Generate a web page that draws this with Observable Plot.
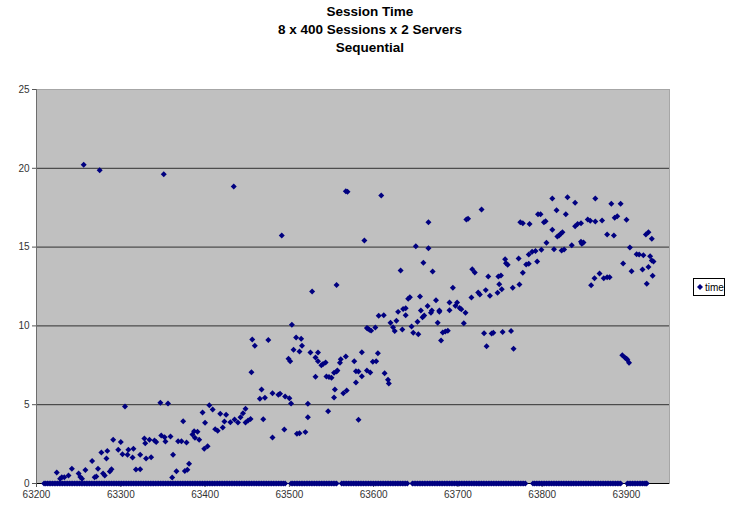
<!DOCTYPE html>
<html>
<head>
<meta charset="utf-8">
<script src="https://cdn.jsdelivr.net/npm/d3@7"></script>
<script src="https://cdn.jsdelivr.net/npm/@observablehq/plot@0.6"></script>
<style>
  html, body { margin: 0; padding: 0; background: #fff; }
  #wrap { position: relative; width: 730px; height: 511px; overflow: hidden; font-family: "Liberation Sans", Arial, sans-serif; }
  #title { position: absolute; left: 0; top: 3px; width: 740px; text-align: center; font-weight: bold; font-size: 13.5px; line-height: 18px; color: #000; }
  #chart { position: absolute; left: 0; top: 60px; }
  #legend { position: absolute; left: 693px; top: 278px; width: 30px; height: 16px; border: 1px solid #000; background: #fff; font-size: 10px; color: #000; display: flex; align-items: center; }
  #legend svg { margin-left: 3px; margin-right: 2px; }
</style>
</head>
<body>
<div id="wrap">
  <div id="title">Session Time<br>8 x 400 Sessions x 2 Servers<br>Sequential</div>
  <div id="chart"></div>
  <div id="legend"><svg width="6" height="6"><polygon points="3,0 6,3 3,6 0,3" fill="#000080"/></svg><span>time</span></div>
</div>
<script>
const seriesName = "time";
const xTicks = [63200, 63300, 63400, 63500, 63600, 63700, 63800, 63900];
const yTicks = [0, 5, 10, 15, 20, 25];
const gridValues = [5, 10, 15, 20];

// sessions with a non-zero time
const sessionX = [
63224,63228,63230,63233,63238,63242,63250,63252,63254,63256,63258,63266,63269,63271,63273,63275,63277,63279,63281,63283,
63284,63287,63289,63291,63297,63300,63302,63305,63308,63309,63314,63315,63318,63323,63323,63328,63329,63330,63334,63336,
63340,63342,63347,63348,63351,63352,63353,63356,63359,63361,63362,63366,63368,63372,63374,63376,63378,63379,63381,63385,
63387,63388,63391,63393,63397,63399,63400,63403,63405,63409,63412,63415,63418,63421,63423,63425,63430,63434,63435,63439,
63442,63445,63448,63448,63451,63454,63455,63456,63459,63465,63467,63469,63471,63475,63480,63480,63487,63489,63491,63494,
63495,63499,63500,63501,63502,63503,63505,63508,63509,63512,63512,63514,63515,63519,63522,63522,63525,63527,63531,63531,
63534,63534,63538,63540,63543,63544,63546,63547,63550,63553,63553,63554,63556,63556,63557,63560,63561,63564,63567,63567,
63568,63569,63577,63579,63579,63582,63582,63586,63586,63589,63592,63592,63593,63595,63596,63597,63599,63602,63603,63605,
63606,63609,63612,63613,63617,63618,63620,63623,63625,63627,63629,63632,63634,63635,63638,63638,63641,63643,63645,63647,
63650,63652,63653,63655,63656,63658,63659,63660,63664,63665,63665,63668,63669,63670,63674,63676,63678,63678,63680,63682,
63685,63688,63690,63690,63694,63697,63699,63702,63704,63707,63709,63710,63712,63716,63717,63720,63724,63726,63728,63731,
63733,63734,63736,63738,63740,63742,63747,63748,63749,63751,63752,63753,63756,63757,63759,63763,63765,63766,63772,63773,
63774,63777,63777,63781,63784,63784,63785,63788,63792,63794,63795,63798,63799,63802,63804,63805,63812,63812,63814,63817,
63818,63820,63822,63824,63823,63826,63828,63830,63835,63839,63839,63842,63846,63846,63847,63849,63854,63857,63858,63862,
63863,63863,63868,63871,63873,63877,63877,63880,63882,63885,63886,63889,63893,63895,63896,63898,63900,63900,63901,63903,
63904,63906,63912,63915,63919,63920,63923,63924,63926,63926,63928,63930,63930,63931,63932
];
const sessionTime = [
0.70,0.30,0.40,0.40,0.50,0.93,0.63,0.42,0.30,20.22,0.85,1.42,0.40,0.44,0.93,19.88,1.97,0.63,0.50,1.59,
2.07,0.76,0.91,2.77,2.14,2.64,1.86,4.89,1.82,2.14,1.65,2.20,0.89,0.91,1.82,2.86,2.56,1.59,2.77,1.67,
2.73,2.64,5.12,3.05,19.63,2.94,2.66,5.08,2.98,0.38,1.82,0.78,2.68,2.68,3.95,0.80,2.60,0.87,1.25,3.11,
3.32,2.90,3.28,2.77,4.50,2.20,3.85,2.37,4.97,4.70,3.45,3.34,4.42,3.55,3.93,4.36,3.89,18.85,4.06,3.87,
4.21,4.46,4.74,3.87,4.00,4.10,7.06,9.14,8.74,5.37,5.96,4.08,5.44,9.10,2.92,5.73,5.63,5.69,15.74,3.43,
5.52,7.91,5.41,7.76,5.08,10.07,8.48,9.26,3.15,8.38,3.19,9.18,8.74,3.26,4.21,5.06,8.31,12.18,8.00,6.77,
8.31,7.76,7.51,7.59,7.68,6.79,4.59,6.75,6.71,5.46,7.02,5.96,7.10,12.60,7.17,7.66,7.89,5.73,18.55,8.06,
5.90,18.51,7.76,6.41,7.13,7.10,4.04,8.33,6.81,15.42,9.86,7.17,9.83,9.75,7.04,9.70,7.72,9.90,7.76,8.27,
10.64,18.27,10.68,7.00,6.58,6.35,10.20,9.92,9.67,10.32,10.89,13.52,9.77,11.08,11.12,10.68,11.72,11.82,9.96,9.56,
15.06,10.26,9.47,11.87,10.98,10.55,14.00,10.66,11.27,16.58,14.93,10.83,10.98,13.45,11.63,10.20,10.89,10.98,9.07,9.58,
9.64,9.69,11.48,11.00,12.42,11.28,11.48,11.13,11.06,10.17,10.83,16.75,16.80,11.80,13.60,13.39,12.12,11.99,17.38,9.54,
12.27,8.71,13.13,11.91,9.52,9.56,12.10,13.13,12.65,13.20,12.33,9.62,14.23,13.98,13.88,9.67,12.42,8.55,14.28,12.63,
16.58,13.37,16.52,13.90,13.94,14.53,16.46,14.70,14.76,14.09,17.09,17.09,14.83,16.58,16.64,15.27,18.08,16.10,14.87,17.34,
15.67,15.74,15.84,15.95,14.78,14.85,17.09,18.17,15.12,16.33,17.81,16.46,16.52,15.34,15.21,15.29,16.75,16.67,12.58,13.03,
16.62,18.08,13.32,16.69,13.03,13.09,15.80,13.09,17.75,15.74,16.86,16.96,17.75,8.14,13.96,8.00,16.73,7.91,7.85,7.66,
14.97,13.47,14.55,14.53,13.58,14.49,15.80,12.67,15.95,13.73,14.42,15.53,14.15,13.18,14.09
];

// sessions whose time is 0
const zeroSessions = [
63209,63211,63213,63215,63217,63219,63221,63223,63225,63227,63229,63231,63233,63235,63237,63239,63241,63243,63245,63247,
63249,63251,63253,63255,63257,63259,63261,63263,63265,63267,63269,63271,63273,63275,63277,63279,63281,63283,63285,63287,
63289,63291,63293,63295,63297,63299,63301,63303,63305,63307,63309,63311,63313,63315,63317,63319,63321,63323,63325,63327,
63329,63331,63333,63335,63337,63339,63341,63343,63345,63347,63349,63351,63353,63355,63357,63359,63361,63363,63365,63367,
63369,63371,63373,63375,63377,63379,63381,63383,63385,63387,63389,63391,63393,63395,63397,63399,63401,63403,63405,63407,
63409,63411,63413,63415,63417,63419,63421,63423,63425,63427,63429,63431,63433,63435,63437,63439,63441,63443,63445,63447,
63449,63451,63453,63455,63457,63459,63461,63463,63465,63467,63469,63471,63473,63475,63477,63479,63481,63483,63485,63487,
63489,63491,63493,63495,63502,63504,63506,63508,63510,63512,63514,63516,63518,63520,63522,63524,63526,63528,63530,63532,
63534,63536,63538,63540,63542,63544,63546,63548,63550,63552,63554,63556,63562,63564,63566,63568,63570,63572,63574,63576,
63578,63580,63582,63584,63586,63588,63590,63592,63594,63596,63598,63600,63602,63604,63606,63608,63610,63612,63614,63616,
63618,63620,63622,63624,63626,63628,63630,63632,63634,63636,63638,63640,63646,63648,63650,63652,63654,63656,63658,63660,
63662,63664,63666,63668,63670,63672,63674,63676,63678,63680,63682,63684,63686,63688,63690,63692,63694,63696,63698,63700,
63702,63704,63706,63708,63710,63712,63714,63716,63718,63720,63722,63724,63726,63728,63730,63732,63734,63736,63738,63740,
63742,63744,63746,63748,63750,63752,63754,63756,63758,63760,63762,63764,63766,63768,63770,63772,63774,63776,63778,63780,
63789,63791,63793,63795,63797,63799,63801,63803,63805,63807,63809,63811,63813,63815,63817,63819,63821,63823,63825,63827,
63829,63831,63833,63835,63837,63839,63841,63843,63845,63847,63849,63851,63853,63855,63857,63859,63861,63863,63865,63867,
63869,63871,63873,63875,63877,63879,63881,63883,63885,63887,63889,63891,63893,63901,63903,63905,63907,63909,63911,63913,
63915,63917,63919,63921,63923,63924
];

const points = sessionX.map((x, i) => ({session: x, time: sessionTime[i]}))
  .concat(zeroSessions.map(x => ({session: x, time: 0})));

const chart = Plot.plot({
  width: 730,
  height: 451,
  marginLeft: 36,
  marginRight: 61,
  marginTop: 29,
  marginBottom: 28,
  style: {background: "transparent", fontFamily: "'Liberation Sans', Arial, sans-serif", fontSize: "10px", overflow: "visible"},
  x: {domain: [63200, 63951], label: null},
  y: {domain: [0, 25], label: null},
  marks: [
    Plot.frame({fill: "#c0c0c0", stroke: "#a6a6a6"}),
    Plot.ruleY(gridValues, {stroke: "#303030", strokeWidth: 1}),
    Plot.ruleX([63200], {stroke: "#6e6e6e"}),
    Plot.ruleY([0], {stroke: "#000"}),
    Plot.axisX({ticks: xTicks, tickFormat: d => String(d), tickSize: 4, tickPadding: 3, stroke: "#555", fill: "#333", label: null}),
    Plot.axisY({ticks: yTicks, tickFormat: d => String(d), tickSize: 4, tickPadding: 3, stroke: "#555", fill: "#333", label: null}),
    Plot.dot(points, {x: "session", y: "time", symbol: "diamond2", r: 2.7, fill: "#000080", stroke: "none"})
  ]
});
document.getElementById("chart").appendChild(chart);
</script>
</body>
</html>
